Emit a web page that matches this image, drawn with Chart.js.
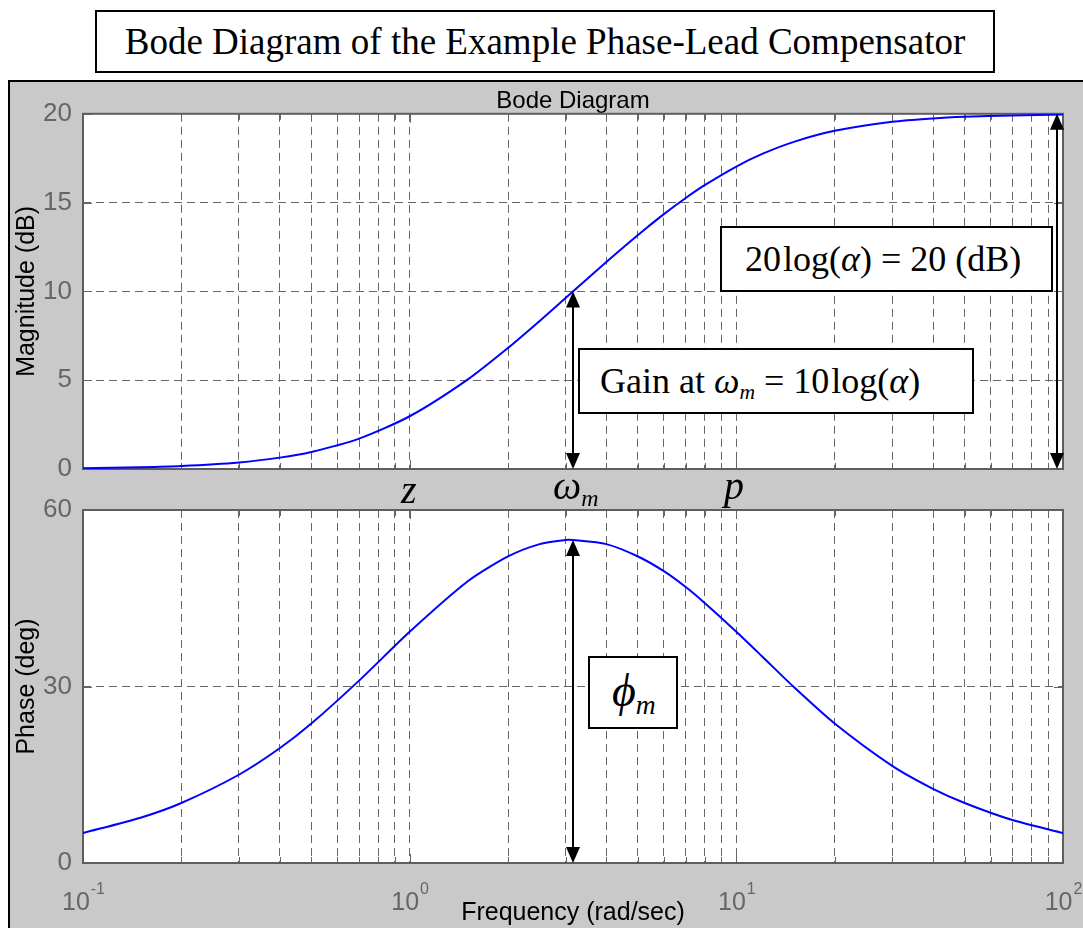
<!DOCTYPE html>
<html>
<head>
<meta charset="utf-8">
<script src="https://cdn.jsdelivr.net/npm/chart.js@4.4.1/dist/chart.umd.min.js"></script>
<style>
  body { margin: 0; background: #fff; width: 1083px; height: 928px; position: relative; overflow: hidden; }
  .abs { position: absolute; box-sizing: border-box; }
  .serif { font-family: "Liberation Serif", "Times New Roman", serif; color: #000; }
  .box { background: #fff; border: 2px solid #000; white-space: nowrap; }
  #figTitle { left: 95px; top: 10px; width: 900px; height: 63px; font-size: 37px; line-height: 59px; text-align: center; }
  #panel { left: 8px; top: 80px; width: 1100px; height: 870px; background: #c9c9c9; border-left: 2px solid #000; border-top: 2px solid #000; }
  canvas { position: absolute; left: 0; }
  #magChart { top: 80px; }
  #phaseChart { top: 480px; }
  #boxAlpha { left: 720px; top: 226px; width: 333px; height: 66px; font-size: 36px; line-height: 62px; padding-left: 23px; }
  #boxGain { left: 578px; top: 348px; width: 396px; height: 66px; font-size: 36px; line-height: 62px; padding-left: 20px; }
  #boxPhi { left: 588px; top: 656px; width: 90px; height: 73px; font-size: 46px; line-height: 66px; padding-left: 22px; }
  .lbl { font-size: 40px; font-style: italic; }
  sub { font-size: 0.6em; vertical-align: -0.3em; }
  .th { margin-left: 2px; }
</style>
</head>
<body>
<div id="figTitle" class="abs serif box">Bode Diagram of the Example Phase-Lead Compensator</div>
<div id="panel" class="abs"></div>
<canvas id="magChart" width="1083" height="400"></canvas>
<canvas id="phaseChart" width="1083" height="448"></canvas>
<div id="boxAlpha" class="abs serif box">20<span class="th">log(<i>α</i>) = 20 (dB)</span></div>
<div id="boxGain" class="abs serif box">Gain at <i>ω<sub>m</sub></i> = 10<span class="th">log(<i>α</i>)</span></div>
<div id="boxPhi" class="abs serif box"><i>ϕ<sub>m</sub></i></div>
<div class="abs serif lbl" style="left:401px;top:466px">z</div>
<div class="abs serif lbl" style="left:553px;top:462px">ω<sub>m</sub></div>
<div class="abs serif lbl" style="left:724px;top:462px">p</div>

<script>
// valeurs (z = 1, p = 10 rad/s)
const freqs = [0.1, 0.15, 0.2, 0.3, 0.4, 0.5, 0.7, 1, 1.5, 2, 2.5, 3, 3.16, 4, 5, 6, 7, 8, 10, 12, 15, 20, 30, 40, 50, 70, 100];
const magnitudeDb = [0.04, 0.1, 0.17, 0.37, 0.64, 0.96, 1.71, 2.97, 5.02, 6.82, 8.34, 9.63, 10.0, 11.66, 13.18, 14.35, 15.26, 15.98, 17.03, 17.74, 18.42, 19.04, 19.55, 19.74, 19.83, 19.91, 19.96];
const phaseDeg = [5.1, 7.7, 10.2, 15.0, 19.5, 23.7, 31.0, 39.3, 47.8, 52.1, 54.2, 54.9, 54.9, 54.2, 52.1, 49.6, 46.9, 44.2, 39.3, 35.1, 29.9, 23.7, 16.5, 12.6, 10.2, 7.3, 5.1];

const freqGrid = [0.1, 0.2, 0.3, 0.4, 0.5, 0.6, 0.7, 0.8, 0.9,
                  1, 2, 3, 4, 5, 6, 7, 8, 9,
                  10, 20, 30, 40, 50, 60, 70, 80, 90, 100];
const decadeTicks = [0.1, 1, 10, 100];
const decadeExps = ['-1', '0', '1', '2'];
const magTicks = [0, 5, 10, 15, 20];
const phaseTicks = [0, 30, 60];

const AXIS_GRAY = '#666';
const GRID_GRAY = '#666';
const SANS = '"Liberation Sans", Arial, Helvetica, sans-serif';

function drawArrow(ctx, x, yTop, yBottom) {
    const head = 16, half = 7;
    ctx.save();
    ctx.strokeStyle = '#000';
    ctx.fillStyle = '#000';
    ctx.lineWidth = 2;
    ctx.beginPath();
    ctx.moveTo(x, yTop + head - 2);
    ctx.lineTo(x, yBottom - head + 2);
    ctx.stroke();
    ctx.beginPath();
    ctx.moveTo(x, yTop);
    ctx.lineTo(x - half, yTop + head);
    ctx.lineTo(x + half, yTop + head);
    ctx.closePath();
    ctx.fill();
    ctx.beginPath();
    ctx.moveTo(x, yBottom);
    ctx.lineTo(x - half, yBottom - head);
    ctx.lineTo(x + half, yBottom - head);
    ctx.closePath();
    ctx.fill();
    ctx.restore();
}

// fond blanc, cadre, petites graduations, fleches et etiquettes 10^n
const bodeFrame = {
    id: 'bodeFrame',
    beforeDraw(chart) {
        const a = chart.chartArea;
        const ctx = chart.ctx;
        ctx.save();
        ctx.fillStyle = '#fff';
        ctx.fillRect(a.left, a.top, a.right - a.left, a.bottom - a.top);
        ctx.restore();
    },
    beforeDatasetsDraw(chart) {
        const a = chart.chartArea;
        const ctx = chart.ctx;
        const xs = chart.scales.x, ys = chart.scales.y;
        ctx.save();
        ctx.strokeStyle = AXIS_GRAY;
        ctx.lineWidth = 1;
        ctx.beginPath();
        freqGrid.forEach(f => {
            const px = Math.round(xs.getPixelForValue(f)) + 0.5;
            const len = decadeTicks.includes(f) ? 9 : 6;
            ctx.moveTo(px, a.bottom); ctx.lineTo(px, a.bottom - len);
            ctx.moveTo(px, a.top); ctx.lineTo(px, a.top + len);
        });
        ys.ticks.forEach(t => {
            const py = Math.round(ys.getPixelForValue(t.value)) + 0.5;
            ctx.moveTo(a.left, py); ctx.lineTo(a.left + 9, py);
            ctx.moveTo(a.right, py); ctx.lineTo(a.right - 9, py);
        });
        ctx.stroke();
        ctx.lineWidth = 2;
        ctx.strokeStyle = '#5e5e5e';
        ctx.strokeRect(a.left, a.top, a.right - a.left, a.bottom - a.top);
        ctx.restore();
    },
    afterDatasetsDraw(chart, args, opts) {
        const xs = chart.scales.x, ys = chart.scales.y;
        (opts.arrows || []).forEach(ar => {
            drawArrow(chart.ctx, Math.round(xs.getPixelForValue(ar.x)),
                ys.getPixelForValue(ar.yTop), ys.getPixelForValue(ar.yBottom));
        });
    },
    afterDraw(chart, args, opts) {
        if (!opts.decadeLabels) return;
        const ctx = chart.ctx;
        const xs = chart.scales.x;
        const base = chart.chartArea.bottom + 47;
        ctx.save();
        ctx.fillStyle = AXIS_GRAY;
        ctx.textBaseline = 'alphabetic';
        decadeTicks.forEach((v, i) => {
            const px = xs.getPixelForValue(v);
            ctx.font = '25px ' + SANS;
            const w1 = ctx.measureText('10').width;
            ctx.font = '16px ' + SANS;
            const w2 = ctx.measureText(decadeExps[i]).width;
            const x0 = px - (w1 + w2) / 2;
            ctx.font = '25px ' + SANS;
            ctx.fillText('10', x0, base);
            ctx.font = '16px ' + SANS;
            ctx.fillText(decadeExps[i], x0 + w1 + 1, base - 16);
        });
        ctx.restore();
    }
};

function xScale(showTitle, height) {
    return {
        type: 'logarithmic',
        min: 0.1,
        max: 100,
        afterBuildTicks: s => { s.ticks = freqGrid.map(v => ({ value: v })); },
        afterFit: s => { s.height = height; s.paddingLeft = 0; s.paddingRight = 0; },
        ticks: { display: false },
        grid: { color: GRID_GRAY, lineWidth: 1, drawTicks: false },
        border: { display: false, dash: [8, 5] },
        title: {
            display: showTitle,
            text: 'Frequency (rad/sec)',
            color: '#000',
            font: { family: SANS, size: 25 },
            padding: { top: 0, bottom: 0 }
        }
    };
}

function yScale(ticks, title) {
    return {
        min: ticks[0],
        max: ticks[ticks.length - 1],
        afterBuildTicks: s => { s.ticks = ticks.map(v => ({ value: v })); },
        afterFit: s => { s.width = 73; s.paddingTop = 0; s.paddingBottom = 0; },
        ticks: { color: AXIS_GRAY, padding: 11, font: { family: SANS, size: 26 } },
        grid: { color: GRID_GRAY, lineWidth: 1, drawTicks: false },
        border: { display: false, dash: [8, 5] },
        title: {
            display: true,
            text: title,
            color: '#000',
            font: { family: SANS, size: 25 },
            padding: { top: 2, bottom: 0 }
        }
    };
}

function curve(values) {
    return [{
        data: freqs.map((f, i) => ({ x: f, y: values[i] })),
        borderColor: '#0000ff',
        borderWidth: 2,
        pointRadius: 0,
        tension: 0.25,
        fill: false
    }];
}

new Chart(document.getElementById('magChart'), {
    type: 'line',
    data: { datasets: curve(magnitudeDb) },
    options: {
        responsive: false,
        animation: false,
        layout: { padding: { left: 10, right: 20, top: 0, bottom: 11 } },
        scales: { x: xScale(false, 0), y: yScale(magTicks, 'Magnitude (dB)') },
        plugins: {
            legend: { display: false },
            tooltip: { enabled: false },
            title: {
                display: true,
                text: 'Bode Diagram',
                fullSize: false,
                color: '#000',
                font: { family: SANS, size: 24, weight: 'normal' },
                padding: { top: 7, bottom: -2 }
            },
            bodeFrame: {
                arrows: [
                    { x: 3.16, yTop: 10, yBottom: 0 },
                    { x: 96, yTop: 20, yBottom: 0 }
                ]
            }
        }
    },
    plugins: [bodeFrame]
});

new Chart(document.getElementById('phaseChart'), {
    type: 'line',
    data: { datasets: curve(phaseDeg) },
    options: {
        responsive: false,
        animation: false,
        layout: { padding: { left: 10, right: 20, top: 30, bottom: 0 } },
        scales: { x: xScale(true, 65), y: yScale(phaseTicks, 'Phase (deg)') },
        plugins: {
            legend: { display: false },
            tooltip: { enabled: false },
            bodeFrame: {
                decadeLabels: true,
                arrows: [{ x: 3.16, yTop: 54.9, yBottom: 0 }]
            }
        }
    },
    plugins: [bodeFrame]
});
</script>
</body>
</html>
